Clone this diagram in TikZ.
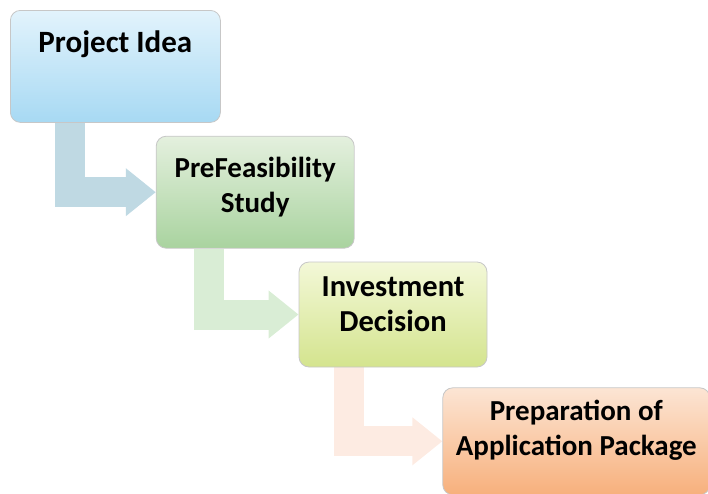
\documentclass[tikz,border=0pt]{standalone}
\usepackage{fontspec}
\setmainfont{Carlito}
\usetikzlibrary{arrows.meta,positioning,backgrounds}

\definecolor{ideatop}{HTML}{E2F3FC}
\definecolor{ideabot}{HTML}{A7D9F3}
\definecolor{pretop}{HTML}{E4F0DE}
\definecolor{prebot}{HTML}{A9D39F}
\definecolor{invtop}{HTML}{F3F8D8}
\definecolor{invbot}{HTML}{D4E48E}
\definecolor{apptop}{HTML}{FCE5D4}
\definecolor{appbot}{HTML}{F7B07C}
\definecolor{flowa}{HTML}{BFD9E3}
\definecolor{flowb}{HTML}{D9EDD5}
\definecolor{flowc}{HTML}{FDEBE2}

\begin{document}
\begin{tikzpicture}[
x=1pt, y=1pt,
stepbox/.style={draw=black!22, line width=0.8pt, rounded corners=10pt, align=center, inner sep=0pt,
  font=\fontsize{29}{35}\selectfont\bfseries},
flow/.style={line width=30pt, -{Triangle[length=30pt, width=46pt]}}
]
\useasboundingbox (0,0) rectangle (708,-493);
\node[stepbox, anchor=north west, minimum width=210pt, minimum height=112pt, top color=ideatop, bottom color=ideabot,
  font=\fontsize{31}{35}\selectfont\bfseries, text depth=49pt] (idea) at (10,-10) {Project Idea};
\node[stepbox, below right=13pt and -65pt of idea, minimum width=198pt, minimum height=112pt,
  top color=pretop, bottom color=prebot, text depth=14pt] (pre) {PreFeasibility\\Study};
\node[stepbox, below right=13pt and -56pt of pre, minimum width=188pt, minimum height=105pt,
  top color=invtop, bottom color=invbot, font=\fontsize{30.5}{35}\selectfont\bfseries,
  text depth=20pt] (inv) {Investment\\Decision};
\node[stepbox, below right=20pt and -45pt of inv, minimum width=267pt, minimum height=107pt,
  top color=apptop, bottom color=appbot, text depth=28pt] (app) {Preparation of\\Application Package};
\begin{scope}[on background layer]
\draw[flow, flowa] ([xshift=60pt]idea.south west) |- (pre.west);
\draw[flow, flowb] ([xshift=53pt]pre.south west) |- (inv.west);
\draw[flow, flowc] ([xshift=50pt]inv.south west) |- (app.west);
\end{scope}
\end{tikzpicture}
\end{document}
